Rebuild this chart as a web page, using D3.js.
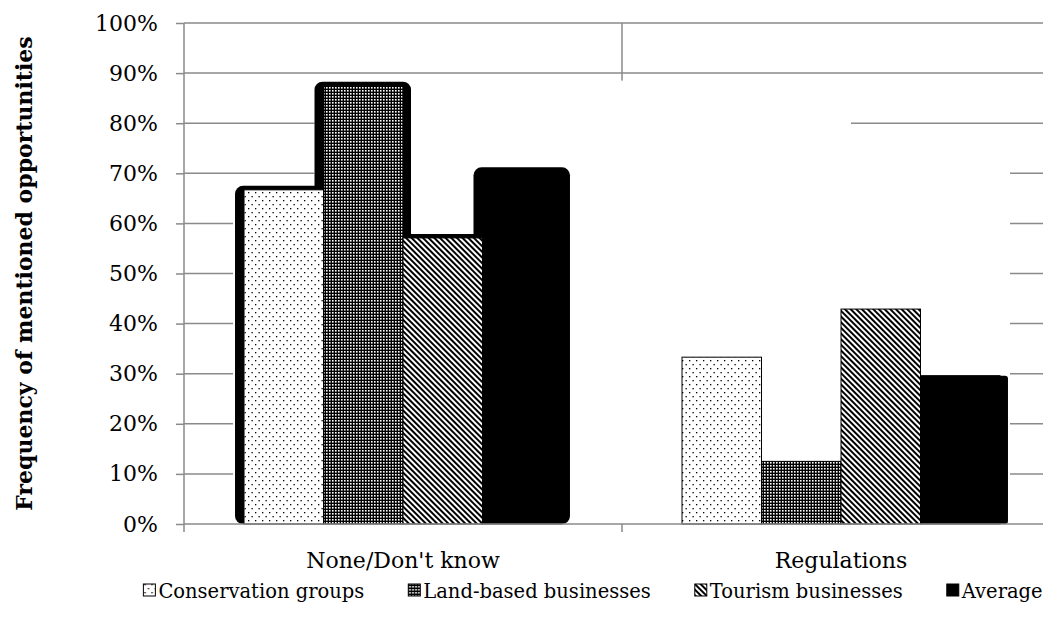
<!DOCTYPE html>
<html>
<head>
<meta charset="utf-8">
<script src="https://cdn.jsdelivr.net/npm/d3@7"></script>
<style>
  body { margin: 0; background: #fff; }
  text { font-family: "DejaVu Serif", serif; fill: #000; }
</style>
</head>
<body>
<div id="wrapper"></div>
<script>
// data
const categories = ["None/Don't know", "Regulations"]
const seriesNames = ["Conservation groups", "Land-based businesses", "Tourism businesses", "Average"]
const conservationGroups = [0.667, 0.333]
const landBasedBusinesses = [0.875, 0.125]
const tourismBusinesses = [0.571, 0.429]
const averageValues = [0.704, 0.296]
const yTickValues = [0, 0.1, 0.2, 0.3, 0.4, 0.5, 0.6, 0.7, 0.8, 0.9, 1]
const yTitle = "Frequency of mentioned opportunities"

const seriesValues = [conservationGroups, landBasedBusinesses, tourismBusinesses, averageValues]
const patternIds = ["pat-dots", "pat-grid", "pat-diag", "pat-solid"]

// 1. dimensions
let dimensions = {
  width: 1051,
  height: 634,
  margin: { top: 23, right: -9, bottom: 110, left: 184 },
}
dimensions.boundedWidth = dimensions.width - dimensions.margin.left - dimensions.margin.right
dimensions.boundedHeight = dimensions.height - dimensions.margin.top - dimensions.margin.bottom
const gridRight = 1043 - dimensions.margin.left

// 2. canvas
const wrapper = d3.select("#wrapper")
  .append("svg")
    .attr("width", dimensions.width)
    .attr("height", dimensions.height)

const defs = wrapper.append("defs")

// sparse dots
const pDots = defs.append("pattern").attr("id", "pat-dots")
  .attr("patternUnits", "userSpaceOnUse").attr("width", 7).attr("height", 8)
pDots.append("rect").attr("width", 7).attr("height", 8).attr("fill", "#fff")
pDots.append("rect").attr("x", 1).attr("y", 1).attr("width", 1.3).attr("height", 1.3).attr("fill", "#000")
pDots.append("rect").attr("x", 4.5).attr("y", 5).attr("width", 1.3).attr("height", 1.3).attr("fill", "#000")

// dense white dots on black
const pGrid = defs.append("pattern").attr("id", "pat-grid")
  .attr("patternUnits", "userSpaceOnUse").attr("width", 3).attr("height", 3)
pGrid.append("rect").attr("width", 3).attr("height", 3).attr("fill", "#000")
pGrid.append("rect").attr("x", 1).attr("y", 1).attr("width", 1.6).attr("height", 1.6).attr("fill", "#fff")

// downward diagonal stripes
const pDiag = defs.append("pattern").attr("id", "pat-diag")
  .attr("patternUnits", "userSpaceOnUse").attr("width", 4).attr("height", 10)
  .attr("patternTransform", "rotate(-45)")
pDiag.append("rect").attr("width", 4).attr("height", 10).attr("fill", "#fff")
pDiag.append("rect").attr("width", 2).attr("height", 10).attr("fill", "#000")

defs.append("pattern").attr("id", "pat-solid")
  .attr("patternUnits", "userSpaceOnUse").attr("width", 4).attr("height", 4)
  .append("rect").attr("width", 4).attr("height", 4).attr("fill", "#000")

const bounds = wrapper.append("g")
  .attr("transform", `translate(${dimensions.margin.left},${dimensions.margin.top})`)

// 3. scales
const yScale = d3.scaleLinear()
  .domain([0, 1])
  .range([dimensions.boundedHeight, 0])

const x0Scale = d3.scaleBand()
  .domain(categories)
  .range([0, dimensions.boundedWidth])

const x1Scale = d3.scaleBand()
  .domain(seriesNames)
  .range([0, x0Scale.bandwidth()])
  .paddingOuter(0.755)

const bars = []
categories.forEach((c, ci) => {
  seriesNames.forEach((s, si) => {
    bars.push({ cat: c, ci, series: s, si, value: seriesValues[si][ci] })
  })
})
const barX = d => x0Scale(d.cat) + x1Scale(d.series)
const bw = x1Scale.bandwidth()

// 4. gridlines + axes
bounds.append("g")
  .selectAll("line")
  .data(yTickValues.slice(1))
  .join("line")
    .attr("x1", 0)
    .attr("x2", gridRight)
    .attr("y1", d => yScale(d))
    .attr("y2", d => yScale(d))
    .attr("stroke", "#8a8a8a")
    .attr("stroke-width", 1.5)

// category separator
bounds.append("line")
  .attr("x1", x0Scale(categories[1])).attr("x2", x0Scale(categories[1]))
  .attr("y1", 0).attr("y2", dimensions.boundedHeight + 8)
  .attr("stroke", "#8a8a8a").attr("stroke-width", 1.5)

// white shadow area behind the bars (hides parts of the grid)
const first = bars[0], land0 = bars[1], land1 = bars[5], last = bars[7]
const maskRects = [
  { x1: barX(land0) - 9, x2: barX(land1) + bw + 10, top: d3.max(landBasedBusinesses) + 0.01 },
  { x1: barX(land0) - 9, x2: barX(last) + bw + 10, top: d3.max(averageValues) + 0.05 },
  { x1: barX(first) - 11, x2: barX(last) + bw + 10, top: d3.max(conservationGroups) - 0.02 },
]
bounds.append("g")
  .selectAll("rect")
  .data(maskRects)
  .join("rect")
    .attr("x", d => d.x1)
    .attr("width", d => d.x2 - d.x1)
    .attr("y", d => yScale(d.top))
    .attr("height", d => dimensions.boundedHeight - yScale(d.top))
    .attr("fill", "#fff")

// black glow behind bars
const glowBars = bars.filter(d => d.ci === 0 || d.si === 3)
bounds.append("g")
  .selectAll("rect")
  .data(glowBars)
  .join("rect")
    .attr("x", d => d.ci === 0 ? barX(d) - 9 : barX(d))
    .attr("width", d => d.ci === 0 ? bw + 17 : bw + 8)
    .attr("y", d => yScale(d.value) - (d.ci === 0 ? 4 : 0))
    .attr("height", d => dimensions.boundedHeight - yScale(d.value) + (d.ci === 0 ? 4 : 0))
    .attr("rx", d => d.ci === 0 ? 8 : 3)
    .attr("fill", "#000")

// 5. bars
bounds.append("g")
  .selectAll("rect")
  .data(bars)
  .join("rect")
    .attr("x", barX)
    .attr("width", bw)
    .attr("y", d => yScale(d.value))
    .attr("height", d => dimensions.boundedHeight - yScale(d.value))
    .attr("fill", d => `url(#${patternIds[d.si]})`)
    .attr("stroke", "#000")
    .attr("stroke-width", 1)

// y axis
const yAxisGenerator = d3.axisLeft(yScale)
  .tickValues(yTickValues)
  .tickFormat(d3.format(".0%"))
  .tickSize(8)
  .tickPadding(18)

const yAxis = bounds.append("g").call(yAxisGenerator)
yAxis.select(".domain").attr("stroke", "#8a8a8a").attr("stroke-width", 1.5)
  .attr("d", `M0,0V${dimensions.boundedHeight + 8}`)
yAxis.selectAll(".tick line").attr("stroke", "#8a8a8a").attr("stroke-width", 1.5)
yAxis.selectAll(".tick text")
  .style("font-family", "'DejaVu Serif', serif")
  .style("font-size", "22px")
  .attr("fill", "#000")

// x axis
const xAxisGenerator = d3.axisBottom(x0Scale).tickSize(0).tickPadding(28)
const xAxis = bounds.append("g")
  .attr("transform", `translate(0,${dimensions.boundedHeight})`)
  .call(xAxisGenerator)
xAxis.select(".domain").remove()
xAxis.append("line").attr("x1", 0).attr("x2", gridRight)
  .attr("stroke", "#8a8a8a").attr("stroke-width", 1.5)
xAxis.selectAll(".tick text")
  .style("font-family", "'DejaVu Serif', serif")
  .style("font-size", "22px")
  .attr("fill", "#000")

// y title
wrapper.append("text")
  .attr("transform", `translate(32,${dimensions.margin.top + dimensions.boundedHeight / 2}) rotate(-90)`)
  .attr("text-anchor", "middle")
  .style("font-size", "22px")
  .style("font-weight", "bold")
  .text(yTitle)

// legend
const legend = wrapper.append("g").attr("transform", "translate(0,591)")
const items = legend.selectAll("g")
  .data(seriesNames)
  .join("g")
items.append("rect")
  .attr("y", -7).attr("width", 12).attr("height", 12)
  .attr("fill", (d, i) => `url(#${patternIds[i]})`)
  .attr("stroke", "#000").attr("stroke-width", 1)
items.append("text")
  .attr("x", 15)
  .attr("dy", "0.35em")
  .style("font-size", "19.5px")
  .text(d => d)

const gap = 44
let widths = []
items.each(function () { widths.push(this.getBBox().width) })
const total = d3.sum(widths) + gap * (widths.length - 1)
let cursor = 593 - total / 2
items.attr("transform", (d, i) => {
  const x = cursor
  cursor += widths[i] + gap
  return `translate(${x},0)`
})
</script>
</body>
</html>
